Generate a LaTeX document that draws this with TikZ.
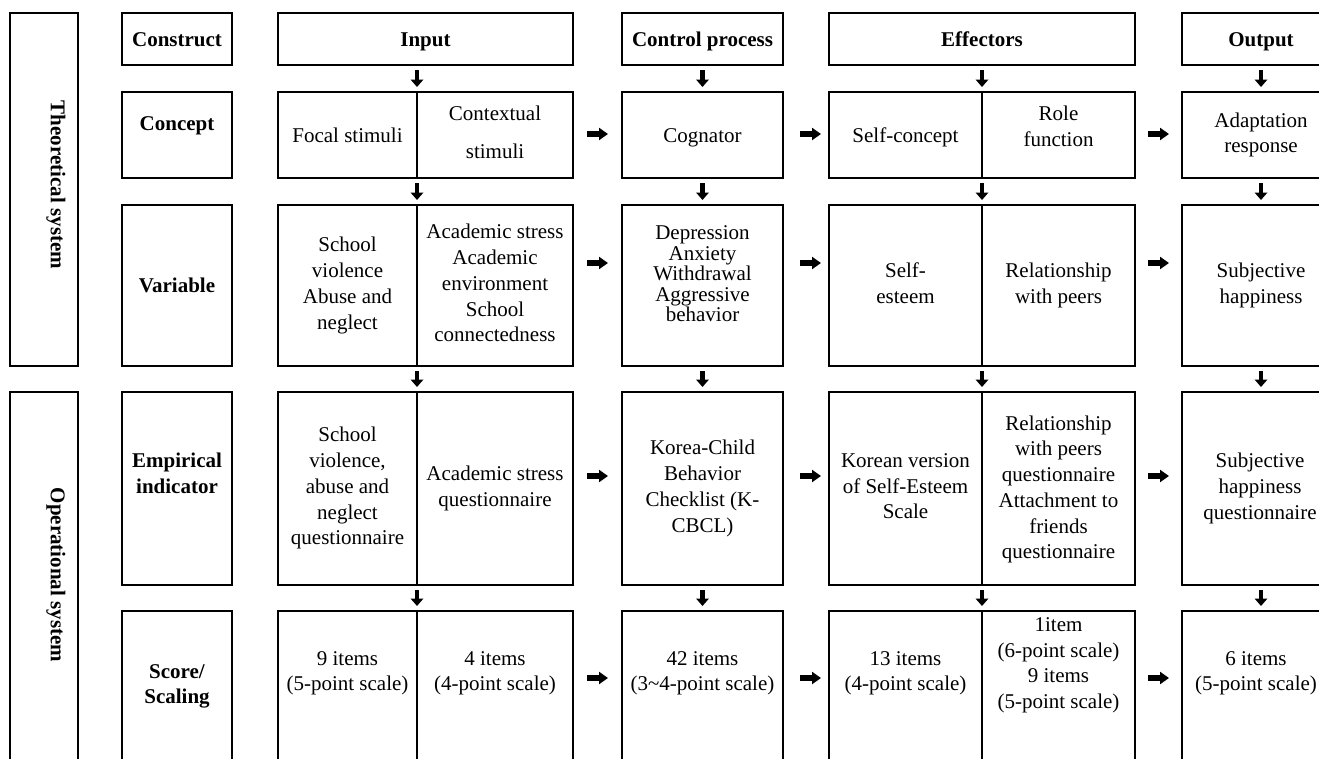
\documentclass[tikz,border=0pt]{standalone}
\usepackage{fontspec}
\setmainfont{Liberation Serif}
\usetikzlibrary{arrows.meta,calc}
\begin{document}
\begin{tikzpicture}[x=1pt,y=-1pt,
  cell/.style={draw, line width=1.8pt, rectangle, inner sep=0pt, outer sep=0pt, anchor=north west},
  txt/.style={font=\fontsize{21}{25.75}\selectfont, align=center, inner sep=0pt, yshift=-2pt,
    execute at begin node=\strut, execute at end node=\strut},
  tighttxt/.style={font=\fontsize{21}{20.5}\selectfont, align=center, inner sep=0pt, yshift=-2pt,
    execute at begin node=\strut, execute at end node=\strut},
  btxt/.style={font=\fontsize{21}{25.75}\selectfont\bfseries, align=center, inner sep=0pt, yshift=-2pt,
    execute at begin node=\strut, execute at end node=\strut},
  vtxt/.style={font=\fontsize{21}{25.75}\selectfont\bfseries, inner sep=0pt, rotate=-90},
  darr/.style={line width=4.3pt, -{Triangle[length=7.5pt,width=12.5pt]}, shorten <=5pt, shorten >=5pt},
  rarr/.style={line width=5.5pt, -{Triangle[length=9pt,width=12pt]}}
]
\useasboundingbox (0,0) rectangle (1319,758);
\clip (0,0) rectangle (1319,758);

% system boxes
\node[cell, minimum width=68pt, minimum height=353pt] (theo) at (10,13) {};
\node[cell, minimum width=68pt, minimum height=420pt] (oper) at (10,392) {};
\node[vtxt] (tTheo) at (56,185) {Theoretical system};
\node[vtxt] (tOper) at (56,575) {Operational system};

% header row
\node[cell, minimum width=110pt, minimum height=52pt] (hCon) at (122,13) {};
\node[cell, minimum width=295pt, minimum height=52pt] (hIn) at (278,13) {};
\node[cell, minimum width=161pt, minimum height=52pt] (hCtl) at (622,13) {};
\node[cell, minimum width=306pt, minimum height=52pt] (hEf) at (829,13) {};
\node[cell, minimum width=158pt, minimum height=52pt] (hOut) at (1182,13) {};
\node[btxt] (tCon) at (hCon.center) {Construct};
\node[btxt] (tIn) at (hIn.center) {Input};
\node[btxt] (tCtl) at (hCtl.center) {Control process};
\node[btxt] (tEf) at (hEf.center) {Effectors};
\node[btxt] (tOut) at (hOut.center) {Output};

% concept row (y 92, h 86)
\node[cell, minimum width=110pt, minimum height=86pt] (cLab) at (122,92) {};
\node[cell, minimum width=139pt, minimum height=86pt] (cInL) at (278,92) {};
\node[cell, minimum width=156pt, minimum height=86pt] (cInR) at (417,92) {};
\node[cell, minimum width=161pt, minimum height=86pt] (cCtl) at (622,92) {};
\node[cell, minimum width=153pt, minimum height=86pt] (cEfL) at (829,92) {};
\node[cell, minimum width=153pt, minimum height=86pt] (cEfR) at (982,92) {};
\node[cell, minimum width=158pt, minimum height=86pt] (cOut) at (1182,92) {};
\node[btxt] at (177,123) {Concept};
\node[txt] at (347.5,135) {Focal stimuli};
\node[txt] at (495,134) {Contextual\\[12.5pt]stimuli};
\node[txt] at (702.5,135) {Cognator};
\node[txt] at (905.5,135) {Self-concept};
\node[txt] at (1058.5,128) {Role\\function};
\node[txt] at (1261,134.5) {Adaptation\\response};

% variable row (y 205, h 161)
\node[cell, minimum width=110pt, minimum height=161pt] (vLab) at (122,205) {};
\node[cell, minimum width=139pt, minimum height=161pt] (vInL) at (278,205) {};
\node[cell, minimum width=156pt, minimum height=161pt] (vInR) at (417,205) {};
\node[cell, minimum width=161pt, minimum height=161pt] (vCtl) at (622,205) {};
\node[cell, minimum width=153pt, minimum height=161pt] (vEfL) at (829,205) {};
\node[cell, minimum width=153pt, minimum height=161pt] (vEfR) at (982,205) {};
\node[cell, minimum width=158pt, minimum height=161pt] (vOut) at (1182,205) {};
\node[btxt] at (177,285) {Variable};
\node[txt] at (347.5,285) {School\\violence\\Abuse and\\neglect};
\node[txt] at (495,285) {Academic stress\\Academic\\environment\\School\\connectedness};
\node[tighttxt] at (702.5,275) {Depression\\Anxiety\\Withdrawal\\Aggressive\\behavior};
\node[txt] at (905.5,285) {Self-\\esteem};
\node[txt] at (1058.5,285) {Relationship\\with peers};
\node[txt] at (1261,285) {Subjective\\happiness};

% empirical row (y 392, h 193)
\node[cell, minimum width=110pt, minimum height=193pt] (eLab) at (122,392) {};
\node[cell, minimum width=139pt, minimum height=193pt] (eInL) at (278,392) {};
\node[cell, minimum width=156pt, minimum height=193pt] (eInR) at (417,392) {};
\node[cell, minimum width=161pt, minimum height=193pt] (eCtl) at (622,392) {};
\node[cell, minimum width=153pt, minimum height=193pt] (eEfL) at (829,392) {};
\node[cell, minimum width=153pt, minimum height=193pt] (eEfR) at (982,392) {};
\node[cell, minimum width=158pt, minimum height=193pt] (eOut) at (1182,392) {};
\node[btxt] at (177,475) {Empirical\\indicator};
\node[txt] at (347.5,488) {School\\violence,\\abuse and\\neglect\\questionnaire};
\node[txt] at (495,488) {Academic stress\\questionnaire};
\node[txt] at (702.5,488) {Korea-Child\\Behavior\\Checklist (K-\\CBCL)};
\node[txt] at (905.5,488) {Korean version\\of Self-Esteem\\Scale};
\node[txt] at (1058.5,489) {Relationship\\with peers\\questionnaire\\Attachment to\\friends\\questionnaire};
\node[txt] at (1260,488) {Subjective\\happiness\\questionnaire};

% score row (y 611, open at bottom)
\node[cell, minimum width=110pt, minimum height=200pt] (sLab) at (122,611) {};
\node[cell, minimum width=139pt, minimum height=200pt] (sInL) at (278,611) {};
\node[cell, minimum width=156pt, minimum height=200pt] (sInR) at (417,611) {};
\node[cell, minimum width=161pt, minimum height=200pt] (sCtl) at (622,611) {};
\node[cell, minimum width=153pt, minimum height=200pt] (sEfL) at (829,611) {};
\node[cell, minimum width=153pt, minimum height=200pt] (sEfR) at (982,611) {};
\node[cell, minimum width=158pt, minimum height=200pt] (sOut) at (1182,611) {};
\node[btxt] at (177,686) {Score/\\Scaling};
\node[txt] at (347.5,673) {9 items\\(5-point scale)};
\node[txt] at (495,673) {4 items\\(4-point scale)};
\node[txt] at (702.5,673) {42 items\\(3\textasciitilde4-point scale)};
\node[txt] at (905.5,673) {13 items\\(4-point scale)};
\node[txt] at (1058.5,665) {1item\\(6-point scale)\\9 items\\(5-point scale)};
\node[txt] at (1256,673) {6 items\\(5-point scale)};

% down arrows
\draw[darr] (hIn.south -| cInL.north east) -- (cInL.north east);
\draw[darr] (hCtl.south) -- (cCtl.north);
\draw[darr] (hEf.south -| cEfL.north east) -- (cEfL.north east);
\draw[darr] (hOut.south) -- (cOut.north);
\draw[darr] (cInL.south east) -- (vInL.north east);
\draw[darr] (cCtl.south) -- (vCtl.north);
\draw[darr] (cEfL.south east) -- (vEfL.north east);
\draw[darr] (cOut.south) -- (vOut.north);
\draw[darr] (vInL.south east) -- (eInL.north east);
\draw[darr] (vCtl.south) -- (eCtl.north);
\draw[darr] (vEfL.south east) -- (eEfL.north east);
\draw[darr] (vOut.south) -- (eOut.north);
\draw[darr] (eInL.south east) -- (sInL.north east);
\draw[darr] (eCtl.south) -- (sCtl.north);
\draw[darr] (eEfL.south east) -- (sEfL.north east);
\draw[darr] (eOut.south) -- (sOut.north);

% right arrows
\coordinate (yC) at (0,134);
\coordinate (yV) at (0,263);
\coordinate (yE) at (0,476);
\coordinate (yS) at (0,678);
\foreach \r/\yy in {c/yC, v/yV, e/yE, s/yS} {
  \draw[rarr, shorten <=14pt, shorten >=14pt] (\r InR.east |- \yy) -- (\r Ctl.west |- \yy);
  \draw[rarr, shorten <=17pt, shorten >=8pt] (\r Ctl.east |- \yy) -- (\r EfL.west |- \yy);
  \draw[rarr, shorten <=13pt, shorten >=13pt] (\r EfR.east |- \yy) -- (\r Out.west |- \yy);
}
\end{tikzpicture}
\end{document}
